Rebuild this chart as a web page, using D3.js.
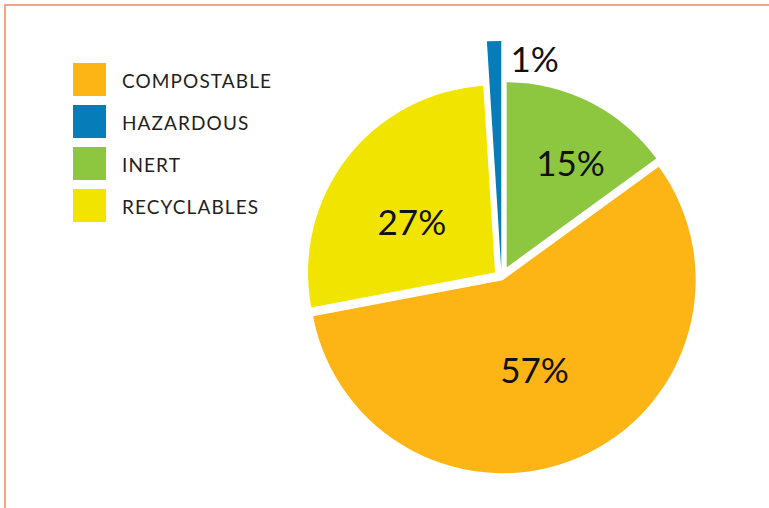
<!DOCTYPE html>
<html>
<head>
<meta charset="utf-8">
<script src="https://cdn.jsdelivr.net/npm/d3@7"></script>
<style>
  body { margin: 0; background: #fff; }
  svg { display: block; }
</style>
</head>
<body>
<div id="chart"></div>
<script>
// data
const categories = ["COMPOSTABLE", "HAZARDOUS", "INERT", "RECYCLABLES"];
const shares = [57, 1, 15, 27];
const sliceOrder = ["INERT", "COMPOSTABLE", "RECYCLABLES", "HAZARDOUS"]; // clockwise from 12 o'clock
const colors = ["#fdb515", "#067cb9", "#8dc63f", "#f1e500"];

// per-slice look: explode distance, radius, label placement (from the slice tip)
const look = {
  INERT:       { explode: 11.4, r: 185, labelDist: 122, labelTurn: 4.6 },
  COMPOSTABLE: { explode: 2.9,  r: 193, labelDist: 96,  labelTurn: 4 },
  RECYCLABLES: { explode: 8.2,  r: 187, labelDist: 97,  labelTurn: -6.8 },
  HAZARDOUS:   { explode: 7.6,  r: 229, labelDist: 213, labelTurn: 10.8 }
};

const width = 769, height = 508;
const cx = 501.5, cy = 277.5;

const svg = d3.select("#chart").append("svg")
  .attr("width", width)
  .attr("height", height);

// frame
svg.append("rect")
  .attr("x", 5).attr("y", 5)
  .attr("width", width + 20).attr("height", height + 20)
  .attr("fill", "none")
  .attr("stroke", "#f5a386")
  .attr("stroke-width", 2);

const color = d3.scaleOrdinal().domain(categories).range(colors);

const rows = categories.map((c, i) => ({ name: c, value: shares[i] }));

const pie = d3.pie()
  .value(d => d.value)
  .sort((a, b) => sliceOrder.indexOf(a.name) - sliceOrder.indexOf(b.name));

const arcs = pie(rows);
const rad = Math.PI / 180;

const g = svg.append("g").attr("transform", `translate(${cx},${cy})`);

const slice = g.selectAll(".slice")
  .data(arcs)
  .enter()
  .append("g")
  .attr("class", "slice")
  .attr("transform", d => {
    const mid = (d.startAngle + d.endAngle) / 2;
    const [x, y] = d3.pointRadial(mid, look[d.data.name].explode);
    return `translate(${x},${y})`;
  });

slice.append("path")
  .attr("d", d => d3.arc().innerRadius(0).outerRadius(look[d.data.name].r)(d))
  .attr("fill", d => color(d.data.name));

slice.append("text")
  .attr("transform", d => {
    const L = look[d.data.name];
    const mid = (d.startAngle + d.endAngle) / 2 + L.labelTurn * rad;
    const [x, y] = d3.pointRadial(mid, L.labelDist);
    return `translate(${x},${y})`;
  })
  .attr("text-anchor", "middle")
  .attr("dy", "0.35em")
  .style("font-family", "Lato, 'Open Sans', sans-serif")
  .style("font-size", "35px")
  .attr("fill", "#111")
  .text(d => d.data.value + "%");

// legend
const y = d3.scaleBand().domain(categories).range([63, 63 + 42 * categories.length]);

const legend = svg.append("g");
const item = legend.selectAll(".item")
  .data(categories)
  .enter()
  .append("g")
  .attr("class", "item")
  .attr("transform", d => `translate(73,${y(d)})`);

item.append("rect")
  .attr("width", 33)
  .attr("height", 33)
  .attr("fill", d => color(d));

item.append("text")
  .attr("x", 49)
  .attr("y", 24.5)
  .style("font-family", "Lato, 'Open Sans', sans-serif")
  .style("font-size", "19px")
  .style("letter-spacing", "1.1px")
  .attr("fill", "#231f20")
  .text(d => d);
</script>
</body>
</html>
